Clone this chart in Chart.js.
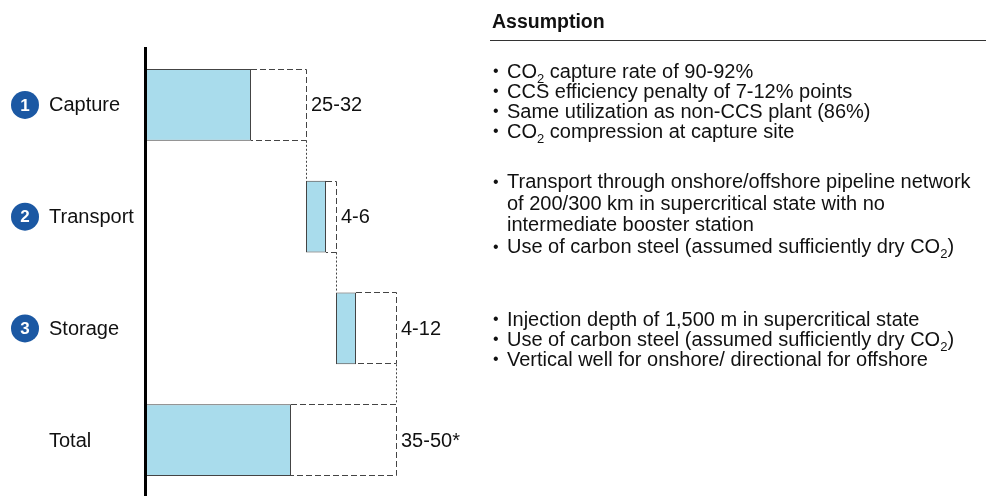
<!DOCTYPE html>
<html>
<head>
<meta charset="utf-8">
<script src="https://cdn.jsdelivr.net/npm/chart.js@4"></script>
<style>
  body { margin: 0; background: #fff; font-family: "Liberation Sans", Arial, sans-serif; color: #111; }
  #wrap { position: relative; width: 986px; height: 496px; overflow: hidden; }
  #chart { position: absolute; left: 0; top: 0; }
  .head { position: absolute; left: 492px; top: 10px; font-size: 19.5px; font-weight: bold; }
  .rule { position: absolute; left: 490px; top: 40px; width: 496px; border-top: 1px solid #333; }
  .group { position: absolute; left: 492px; font-size: 20px; line-height: 20px; }
  .group div { position: relative; padding-left: 15px; white-space: nowrap; }
  .group div::before { content: "\2022"; position: absolute; left: 1px; font-size: 16px; }
  sub { font-size: 13px; line-height: 0; vertical-align: -5px; }
</style>
</head>
<body>
<div id="wrap">
  <canvas id="chart" width="986" height="496"></canvas>
  <div class="head">Assumption</div>
  <div class="rule"></div>
  <div class="group" style="top:61px">
    <div>CO<sub>2</sub> capture rate of 90-92%</div>
    <div>CCS efficiency penalty of 7-12% points</div>
    <div>Same utilization as non-CCS plant (86%)</div>
    <div>CO<sub>2</sub> compression at capture site</div>
  </div>
  <div class="group" style="top:171px; line-height:21.7px">
    <div>Transport through onshore/offshore pipeline network<br>of 200/300 km in supercritical state with no<br>intermediate booster station</div>
    <div>Use of carbon steel (assumed sufficiently dry CO<sub>2</sub>)</div>
  </div>
  <div class="group" style="top:309px">
    <div>Injection depth of 1,500 m in supercritical state</div>
    <div>Use of carbon steel (assumed sufficiently dry CO<sub>2</sub>)</div>
    <div>Vertical well for onshore/ directional for offshore</div>
  </div>
</div>
<script>
const categories = ['Capture', 'Transport', 'Storage', 'Total']
const stepNumbers = ['1', '2', '3', '']
const rangeLabels = ['25-32', '4-6', '4-12', '35-50*']
// bar extents as drawn in the source (not fully to scale)
const barStart = [0, 32, 38, 0]
const barLow = [21, 36, 42, 29]
const barHigh = [32, 38, 50, 50]

const FONT = '"Liberation Sans", Arial, sans-serif'

const waterfallPlugin = {
  id: 'waterfall',
  beforeDatasetsDraw(chart) {
    const ctx = chart.ctx
    const low = chart.getDatasetMeta(0).data
    const meta = chart.getDatasetMeta(1)
    ctx.save()
    ctx.strokeStyle = '#444'
    ctx.lineWidth = 1
    ctx.setLineDash([6, 3])
    meta.data.forEach((bar, i) => {
      const top = Math.round(bar.y - bar.height / 2) + 0.5
      const bottom = Math.round(bar.y + bar.height / 2) - 0.5
      const left = Math.round(low[i].x)
      const right = Math.round(bar.x) + 0.5
      ctx.beginPath()
      ctx.moveTo(left, top)
      ctx.lineTo(right, top)
      ctx.lineTo(right, bottom)
      ctx.lineTo(left, bottom)
      ctx.stroke()
    })
    // connectors between steps
    ctx.setLineDash([2, 2])
    for (let i = 0; i < meta.data.length - 1; i++) {
      const a = meta.data[i]
      const b = meta.data[i + 1]
      const x = Math.round(a.x) + 0.5
      ctx.beginPath()
      ctx.moveTo(x, a.y + a.height / 2)
      ctx.lineTo(x, b.y - b.height / 2)
      ctx.stroke()
    }
    ctx.restore()
  },
  afterDraw(chart) {
    const ctx = chart.ctx
    const area = chart.chartArea
    const meta = chart.getDatasetMeta(1)
    ctx.save()
    // vertical axis
    ctx.fillStyle = '#000'
    ctx.fillRect(area.left - 2, area.top - 2, 3, area.bottom - area.top + 2)
    // range labels
    ctx.font = '20px ' + FONT
    ctx.textBaseline = 'middle'
    ctx.fillStyle = '#111'
    meta.data.forEach((bar, i) => {
      ctx.fillText(rangeLabels[i], bar.x + 5, bar.y + 1)
    })
    // category labels with step circles
    meta.data.forEach((bar, i) => {
      if (stepNumbers[i]) {
        ctx.beginPath()
        ctx.arc(25, bar.y, 14, 0, Math.PI * 2)
        ctx.fillStyle = '#1b58a3'
        ctx.fill()
        ctx.fillStyle = '#fff'
        ctx.font = 'bold 17px ' + FONT
        ctx.textAlign = 'center'
        ctx.fillText(stepNumbers[i], 25, bar.y + 1)
      }
      ctx.textAlign = 'left'
      ctx.fillStyle = '#111'
      ctx.font = '20px ' + FONT
      ctx.fillText(categories[i], 49, bar.y + 1)
    })
    ctx.restore()
  }
}

new Chart(document.getElementById('chart'), {
  type: 'bar',
  data: {
    labels: categories,
    datasets: [{
      label: 'Low estimate',
      data: barStart.map((s, i) => [s, barLow[i]]),
      backgroundColor: '#a9dcec',
      borderColor: '#444',
      borderWidth: 1,
      borderSkipped: false,
      grouped: false,
      barPercentage: 1,
      categoryPercentage: 0.643
    }, {
      label: 'High estimate',
      data: barStart.map((s, i) => [s, barHigh[i]]),
      backgroundColor: 'rgba(0,0,0,0)',
      borderWidth: 0,
      grouped: false,
      barPercentage: 1,
      categoryPercentage: 0.643
    }]
  },
  options: {
    indexAxis: 'y',
    responsive: false,
    animation: false,
    devicePixelRatio: 1,
    layout: { padding: { left: 146, top: 49, right: 540, bottom: 0 } },
    plugins: { legend: { display: false }, tooltip: { enabled: false } },
    scales: {
      x: { type: 'linear', min: 0, max: 60, display: false },
      y: { type: 'category', display: false }
    }
  },
  plugins: [waterfallPlugin]
})
</script>
</body>
</html>
